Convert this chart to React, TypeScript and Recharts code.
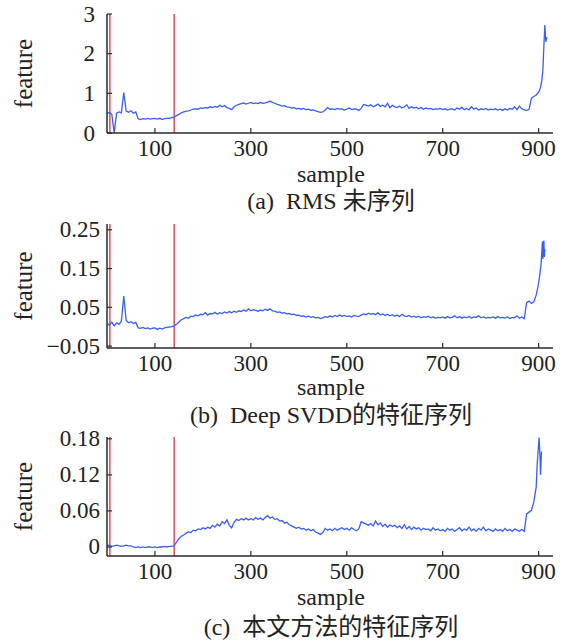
import { LineChart, Line, XAxis, YAxis, ReferenceLine } from "recharts"

// sample spacing of the main value arrays (every 5th sample)
const STEP = 5
const xTicks = [100, 300, 500, 700, 900]
const faultStarts = [6, 140]

// (a) RMS
const rmsValues = [
  0.49, 0.52, 0.47, 0.0, 0.5, 0.53, 0.51, 1.02, 0.55, 0.52,
  0.56, 0.5, 0.53, 0.36, 0.34, 0.36, 0.35, 0.37, 0.35, 0.36,
  0.37, 0.35, 0.37, 0.34, 0.36, 0.37, 0.37, 0.39, 0.4, 0.44,
  0.47, 0.51, 0.53, 0.55, 0.56, 0.58, 0.6, 0.61, 0.6, 0.63,
  0.62, 0.64, 0.63, 0.66, 0.64, 0.67, 0.65, 0.7, 0.66, 0.69,
  0.64, 0.62, 0.59, 0.66, 0.7, 0.72, 0.74, 0.76, 0.73, 0.75,
  0.77, 0.74, 0.76, 0.74, 0.77, 0.75, 0.76, 0.78, 0.8, 0.77,
  0.75, 0.72, 0.7, 0.68, 0.69, 0.66, 0.65, 0.63, 0.64, 0.61,
  0.62, 0.6, 0.62, 0.59, 0.6, 0.57, 0.58, 0.56, 0.54, 0.52,
  0.53, 0.58, 0.64, 0.6, 0.61, 0.59, 0.62, 0.6, 0.61, 0.58,
  0.6, 0.63, 0.59, 0.61, 0.6, 0.57, 0.62, 0.72, 0.7, 0.68,
  0.71, 0.66, 0.69, 0.73, 0.67, 0.7, 0.66, 0.75, 0.64, 0.7,
  0.66, 0.64, 0.68, 0.63, 0.66, 0.71, 0.62, 0.66, 0.63, 0.65,
  0.61, 0.64, 0.6, 0.63, 0.61, 0.62, 0.59, 0.61, 0.6, 0.62,
  0.59, 0.61, 0.58, 0.6, 0.61, 0.58, 0.63, 0.6, 0.65, 0.59,
  0.62, 0.58, 0.66, 0.6, 0.63, 0.58, 0.61, 0.59, 0.62, 0.58,
  0.6, 0.59, 0.61, 0.58, 0.6, 0.57, 0.61, 0.58, 0.62, 0.6,
  0.66, 0.59, 0.68, 0.61, 0.58, 0.57, 0.59, 0.88, 0.92, 0.96,
]
const rmsTailX = [898, 901, 904, 907, 909, 911, 913, 915, 917]
const rmsTailY = [1.0, 1.05, 1.15, 1.35, 1.6, 2.2, 2.72, 2.3, 2.42]

// (b) Deep SVDD
const svddValues = [
  0.008, 0.004, 0.012, 0.002, 0.01, 0.006, 0.014, 0.079, 0.016, 0.01,
  0.013, 0.008, 0.011, -0.003, -0.004, -0.002, -0.005, -0.003, -0.006, -0.004,
  -0.003, -0.007, -0.004, -0.006, -0.003, -0.002, -0.001, 0.0, 0.002, 0.006,
  0.012, 0.018, 0.021, 0.024, 0.022, 0.027, 0.026, 0.03, 0.028, 0.032,
  0.031, 0.036, 0.03, 0.034, 0.033, 0.037, 0.032, 0.036, 0.034, 0.038,
  0.035, 0.039, 0.036, 0.04, 0.037, 0.041, 0.039, 0.043, 0.04, 0.046,
  0.041, 0.044, 0.042, 0.04, 0.043, 0.041, 0.045, 0.042, 0.046, 0.041,
  0.04, 0.037, 0.038, 0.035, 0.036, 0.033, 0.034, 0.031, 0.032, 0.029,
  0.03, 0.027, 0.028, 0.025, 0.027, 0.024, 0.026, 0.023, 0.024, 0.021,
  0.023, 0.026, 0.024, 0.028, 0.025, 0.029, 0.026, 0.03, 0.027, 0.029,
  0.026, 0.028, 0.025, 0.029, 0.027, 0.026, 0.03, 0.033, 0.031, 0.035,
  0.032, 0.034, 0.031, 0.036, 0.03, 0.033, 0.029, 0.032, 0.028, 0.031,
  0.027, 0.03, 0.026, 0.032, 0.028, 0.026, 0.029, 0.025, 0.027, 0.024,
  0.027, 0.023, 0.026, 0.024, 0.027, 0.023, 0.025, 0.022, 0.024, 0.023,
  0.025, 0.022, 0.026, 0.023, 0.024, 0.028, 0.023, 0.026, 0.022, 0.025,
  0.023, 0.027, 0.022, 0.025, 0.024, 0.028, 0.023, 0.025, 0.022, 0.024,
  0.023, 0.025, 0.022, 0.026, 0.023, 0.024, 0.022, 0.025, 0.021, 0.024,
  0.023, 0.028, 0.022, 0.025, 0.021, 0.062, 0.066, 0.06, 0.064, 0.082,
]
const svddTailX = [899, 902, 905, 907, 908, 909, 910, 911, 912, 913]
const svddTailY = [0.105, 0.13, 0.16, 0.2, 0.22, 0.175, 0.215, 0.222, 0.18, 0.2]

// (c) proposed method
const oursValues = [
  0.002, 0.003, 0.001, 0.002, 0.003, 0.002, 0.001, 0.002, 0.003, 0.002,
  0.002, 0.0, -0.001, 0.0, -0.001, 0.0, -0.001, 0.0, 0.0, -0.001,
  0.0, -0.001, 0.0, 0.0, 0.001, 0.0, 0.001, 0.001, 0.002, 0.008,
  0.014, 0.018, 0.02, 0.023, 0.025, 0.024, 0.028, 0.027, 0.03, 0.029,
  0.032, 0.03, 0.033, 0.031, 0.036, 0.033, 0.038, 0.035, 0.042, 0.039,
  0.045, 0.036, 0.032, 0.041, 0.046, 0.044, 0.047, 0.045, 0.048, 0.045,
  0.047, 0.045, 0.049, 0.046, 0.048, 0.045, 0.049, 0.052, 0.048, 0.05,
  0.046, 0.047, 0.043, 0.044, 0.04, 0.041, 0.037, 0.035, 0.033, 0.031,
  0.033, 0.03, 0.031, 0.028, 0.03, 0.027, 0.029, 0.025, 0.023, 0.021,
  0.024, 0.031, 0.028, 0.03, 0.027, 0.031, 0.028, 0.03, 0.032, 0.029,
  0.031, 0.028, 0.032, 0.029, 0.027, 0.03, 0.042, 0.04, 0.038, 0.036,
  0.039, 0.035, 0.043, 0.037, 0.04, 0.034, 0.038, 0.033, 0.037, 0.034,
  0.036, 0.032, 0.035, 0.031, 0.037, 0.03, 0.034, 0.029, 0.033, 0.03,
  0.032, 0.028, 0.031, 0.029, 0.03, 0.027, 0.032, 0.028, 0.03, 0.027,
  0.029, 0.026, 0.031, 0.028, 0.03, 0.026, 0.029, 0.032, 0.027, 0.03,
  0.028, 0.033, 0.027, 0.03, 0.026, 0.031, 0.028, 0.033, 0.027, 0.03,
  0.028, 0.026, 0.03, 0.027, 0.029, 0.026, 0.031, 0.027, 0.029, 0.026,
  0.03, 0.028, 0.026, 0.029, 0.026, 0.055, 0.058, 0.061, 0.075, 0.1,
]
const oursTailX = [897, 899, 901, 903, 904, 905, 906]
const oursTailY = [0.137, 0.16, 0.182, 0.15, 0.12, 0.14, 0.159]

const rmsTicks = [0, 1, 2, 3]
const svddTicks = [-0.05, 0.05, 0.15, 0.25]
const oursTicks = [0, 0.06, 0.12, 0.18]

const FONT = "'Liberation Serif', 'Times New Roman', 'DejaVu Serif', 'Noto Sans CJK SC', serif"
const AXIS = "#2a2a2a"
const BLUE = "#3a5ef2"
const RED = "#d9203f"

function buildData(values: number[], tailX: number[], tailY: number[]) {
  const main = values.map((v, i) => ({ x: i * STEP, y: v }))
  const tail = tailX.map((x, i) => ({ x, y: tailY[i] }))
  return [...main, ...tail]
}

const fmt = (v: number) => (v < 0 ? "\u2212" + String(Math.abs(v)) : String(v))

function XTick(props: any) {
  const { x, y, payload } = props
  return (
    <g>
      <line x1={x} x2={x} y1={y} y2={y - 5} stroke={AXIS} strokeWidth={1.2} />
      <text x={x} y={y + 15} textAnchor="middle" dominantBaseline="central"
        style={{ fontFamily: FONT }} fontSize={23} fill="#222">{payload.value}</text>
    </g>
  )
}

function makeYTick(labelRight: number) {
  return (props: any) => {
    const { x, y, payload } = props
    return (
      <g>
        <line x1={x} x2={x + 5} y1={y} y2={y} stroke={AXIS} strokeWidth={1.2} />
        <text x={labelRight} y={y} textAnchor="end" dominantBaseline="central"
          style={{ fontFamily: FONT }} fontSize={23} fill="#222">{fmt(payload.value)}</text>
      </g>
    )
  }
}

function FeatureLabel(props: any) {
  const vb = props.viewBox
  const cy = vb.y + vb.height / 2
  return (
    <text x={23} y={cy} transform={`rotate(-90 23 ${cy})`} textAnchor="middle"
      dominantBaseline="central" style={{ fontFamily: FONT }} fontSize={25} fill="#222">feature</text>
  )
}

interface PanelProps {
  top: number
  plotHeight: number
  data: { x: number; y: number }[]
  domain: [number, number]
  ticks: number[]
  labelRight: number
}

function Panel({ top, plotHeight, data, domain, ticks, labelRight }: PanelProps) {
  const marginTop = 14
  return (
    <div style={{ position: "absolute", left: 0, top }}>
      <LineChart width={568} height={marginTop + plotHeight + 30} data={data}
        margin={{ top: marginTop, right: 15, left: 0, bottom: 0 }}>
        <XAxis dataKey="x" type="number" domain={[0, 930]} ticks={xTicks} allowDataOverflow
          tickSize={0} tickMargin={0} tickLine={false} height={30}
          axisLine={{ stroke: AXIS, strokeWidth: 1.5 }} tick={XTick} />
        <XAxis xAxisId="top" orientation="top" dataKey="x" type="number" domain={[0, 930]}
          height={0} tick={false} tickLine={false} axisLine={{ stroke: AXIS, strokeWidth: 1.5 }} />
        <YAxis type="number" domain={domain} ticks={ticks} allowDataOverflow width={107}
          tickSize={0} tickMargin={0} tickLine={false}
          axisLine={{ stroke: AXIS, strokeWidth: 1.5 }} tick={makeYTick(labelRight)}
          label={FeatureLabel} />
        <YAxis yAxisId="right" orientation="right" type="number" domain={domain} width={0}
          tick={false} tickLine={false} axisLine={{ stroke: AXIS, strokeWidth: 1.5 }} />
        {faultStarts.map((s) => (
          <ReferenceLine key={s} x={s} stroke={RED} strokeWidth={1.2} />
        ))}
        <Line type="linear" dataKey="y" stroke={BLUE} strokeWidth={1.3} dot={false}
          isAnimationActive={false} />
      </LineChart>
    </div>
  )
}

function Caption({ y, size, children }: { y: number; size: number; children: any }) {
  return (
    <div style={{
      position: "absolute", left: 331, top: y, transform: "translate(-50%, -50%)",
      fontFamily: FONT, fontSize: size, color: "#222", whiteSpace: "pre", lineHeight: 1,
    }}>{children}</div>
  )
}

export default function App() {
  return (
    <div style={{ position: "absolute", left: 0, top: 0, width: 568, height: 641, background: "#fff" }}>
      <Panel top={0} plotHeight={119} data={buildData(rmsValues, rmsTailX, rmsTailY)}
        domain={[0, 3]} ticks={rmsTicks} labelRight={95} />
      <Caption y={174} size={24}>sample</Caption>
      <Caption y={201} size={24}>{"(a)  RMS 未序列"}</Caption>

      <Panel top={210} plotHeight={124} data={buildData(svddValues, svddTailX, svddTailY)}
        domain={[-0.055, 0.265]} ticks={svddTicks} labelRight={100} />
      <Caption y={387} size={24}>sample</Caption>
      <Caption y={415} size={24}>{"(b)  Deep SVDD的特征序列"}</Caption>

      <Panel top={423} plotHeight={119} data={buildData(oursValues, oursTailX, oursTailY)}
        domain={[-0.015, 0.183]} ticks={oursTicks} labelRight={100} />
      <Caption y={597} size={24}>sample</Caption>
      <Caption y={627} size={24}>{"(c)  本文方法的特征序列"}</Caption>
    </div>
  )
}
